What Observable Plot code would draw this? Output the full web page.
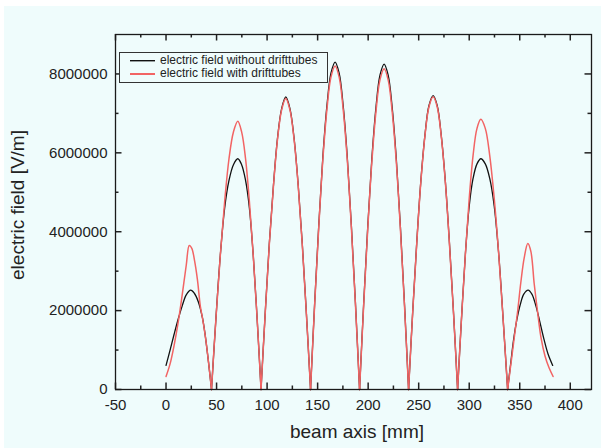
<!DOCTYPE html>
<html><head><meta charset="utf-8">
<script src="https://cdn.jsdelivr.net/npm/d3@7"></script>
<script src="https://cdn.jsdelivr.net/npm/@observablehq/plot@0.6"></script>
<style>
html,body{margin:0;padding:0;background:#fff;}
#chart{position:absolute;left:4px;top:6px;width:597px;height:442px;background:#effcfc;}
</style></head><body><div id="chart"></div>
<script>
// electric field WITHOUT drifttubes (black)
const xBlack = [0,4,8,12,16,20,24.4,28,32,36,39,42,45,
  49.3,53.7,58,62.3,66.7,71,74.8,78.7,82.5,86.3,90.2,94,
  98.1,102.2,106.3,110.3,114.4,118.5,122.6,126.7,130.8,134.8,138.9,143,
  147,151.1,155.1,159.2,163.2,167.3,171.3,175.3,179.4,183.4,187.5,191.5,
  195.5,199.6,203.6,207.7,211.7,215.8,219.8,223.8,227.9,231.9,236,240,
  244,248.1,252.1,256.2,260.2,264.3,268.3,272.3,276.4,280.4,284.5,288.5,
  292.3,296.2,300,303.8,307.7,311.5,315.9,320.3,324.75,329.2,333.6,338,
  341,344,347,350.5,354,358.3,362,366,370,374,378,382.6];
const yBlack = [0.61e6,1.0e6,1.4e6,1.78e6,2.12e6,2.4e6,2.52e6,2.44e6,2.22e6,1.82e6,1.33e6,0.7e6,0,
  1.77e6,3.4e6,4.6e6,5.3e6,5.7e6,5.85e6,5.7e6,5.3e6,4.6e6,3.4e6,1.77e6,0,
  1.92e6,3.7e6,5.18e6,6.37e6,7.12e6,7.42e6,7.12e6,6.37e6,5.18e6,3.7e6,1.92e6,0,
  2.15e6,4.15e6,5.87e6,7.19e6,8.02e6,8.3e6,8.02e6,7.19e6,5.87e6,4.15e6,2.15e6,0,
  2.14e6,4.13e6,5.83e6,7.14e6,7.97e6,8.25e6,7.97e6,7.14e6,5.83e6,4.13e6,2.14e6,0,
  1.93e6,3.73e6,5.27e6,6.45e6,7.2e6,7.45e6,7.2e6,6.45e6,5.27e6,3.73e6,1.93e6,0,
  1.77e6,3.43e6,4.65e6,5.35e6,5.72e6,5.85e6,5.72e6,5.35e6,4.65e6,3.43e6,1.77e6,0,
  0.65e6,1.28e6,1.75e6,2.15e6,2.42e6,2.52e6,2.42e6,2.12e6,1.7e6,1.27e6,0.9e6,0.61e6];

// electric field WITH drifttubes (red)
const xRed = [0,4,8,12,16,20,23,25.5,28,31,34,36,39,42,45,
  49.3,53.7,58,62.3,66.7,71,74.8,78.7,82.5,86.3,90.2,94,
  98.1,102.2,106.3,110.3,114.4,118.5,122.6,126.7,130.8,134.8,138.9,143,
  147,151.1,155.1,159.2,163.2,167.3,171.3,175.3,179.4,183.4,187.5,191.5,
  195.5,199.6,203.6,207.7,211.7,215.8,219.8,223.8,227.9,231.9,236,240,
  244,248.1,252.1,256.2,260.2,264.3,268.3,272.3,276.4,280.4,284.5,288.5,
  292.3,296.2,300,303.8,307.7,311.5,315.9,320.3,324.75,329.2,333.6,338,
  341.5,345,348,351,354.5,358,361,364.3,367.5,371,375,379,383];
const yRed = [0.33e6,0.65e6,1.12e6,1.7e6,2.4e6,3.15e6,3.65e6,3.58e6,3.3e6,2.8e6,2.1e6,1.82e6,1.33e6,0.7e6,0,
  1.77e6,3.4e6,4.76e6,5.85e6,6.53e6,6.8e6,6.53e6,5.85e6,4.76e6,3.4e6,1.77e6,0,
  1.91e6,3.68e6,5.16e6,6.34e6,7.09e6,7.38e6,7.09e6,6.34e6,5.16e6,3.68e6,1.91e6,0,
  2.12e6,4.1e6,5.8e6,7.1e6,7.92e6,8.2e6,7.92e6,7.1e6,5.8e6,4.1e6,2.12e6,0,
  2.1e6,4.07e6,5.75e6,7.04e6,7.85e6,8.13e6,7.85e6,7.04e6,5.75e6,4.07e6,2.1e6,0,
  1.92e6,3.71e6,5.25e6,6.43e6,7.17e6,7.42e6,7.17e6,6.43e6,5.25e6,3.71e6,1.92e6,0,
  1.77e6,3.43e6,4.84e6,5.93e6,6.62e6,6.85e6,6.62e6,5.93e6,4.84e6,3.43e6,1.77e6,0,
  0.7e6,1.4e6,2.0e6,2.7e6,3.35e6,3.7e6,3.5e6,2.68e6,2.0e6,1.32e6,0.85e6,0.55e6,0.33e6];

const seriesNames = ["electric field without drifttubes", "electric field with drifttubes"];
const seriesColors = ["#111111", "#f26464"];
const xDomain = [-50, 421];
const yDomain = [0, 9000000];
const xMajor = [-50,0,50,100,150,200,250,300,350,400];
const xMinor = [-25,25,75,125,175,225,275,325,375];
const yMajor = [0,2000000,4000000,6000000,8000000];
const yMinor = [1000000,3000000,5000000,7000000];
const xTitle = "beam axis [mm]";
const yTitle = "electric field [V/m]";

// split each series into cells at its zeros (zero point shared by both cells)
function toCells(xs, ys) {
  const out = []; let seg = 0;
  xs.forEach((x, i) => {
    out.push({x, y: ys[i], seg});
    if (ys[i] === 0 && i > 0 && i < xs.length - 1) { seg++; out.push({x, y: ys[i], seg}); }
  });
  return out;
}
const black = toCells(xBlack, yBlack);
const red = toCells(xRed, yRed);

const W = 597, H = 442, mL = 111, mR = 10, mT = 28, mB = 59;
const iw = W - mL - mR, ih = H - mT - mB;
// tick lengths in pixels converted to data units
const ux = (xDomain[1] - xDomain[0]) / iw, uy = (yDomain[1] - yDomain[0]) / ih;
const majLen = 6.5, minLen = 3.5;
const tk = {stroke: "#222", strokeWidth: 1.5};

const plot = Plot.plot({
  width: W, height: H,
  marginLeft: mL, marginRight: mR, marginTop: mT, marginBottom: mB,
  style: {background: "#effcfc", fontFamily: "'Liberation Sans', Arial, sans-serif", fontSize: "15px", color: "#222"},
  x: {domain: xDomain},
  y: {domain: yDomain},
  marks: [
    Plot.line(black, {x: "x", y: "y", z: "seg", curve: "catmull-rom", stroke: seriesColors[0], strokeWidth: 1.3}),
    Plot.line(red, {x: "x", y: "y", z: "seg", curve: "catmull-rom", stroke: seriesColors[1], strokeWidth: 1.5}),
    // inward ticks on all four sides
    Plot.ruleX(xMajor, {x: d => d, y1: yDomain[0], y2: yDomain[0] + majLen * uy, ...tk}),
    Plot.ruleX(xMinor, {x: d => d, y1: yDomain[0], y2: yDomain[0] + minLen * uy, ...tk}),
    Plot.ruleX(xMajor, {x: d => d, y1: yDomain[1], y2: yDomain[1] - majLen * uy, ...tk}),
    Plot.ruleX(xMinor, {x: d => d, y1: yDomain[1], y2: yDomain[1] - minLen * uy, ...tk}),
    Plot.ruleY(yMajor, {y: d => d, x1: xDomain[0], x2: xDomain[0] + majLen * ux, ...tk}),
    Plot.ruleY(yMinor, {y: d => d, x1: xDomain[0], x2: xDomain[0] + minLen * ux, ...tk}),
    Plot.ruleY(yMajor, {y: d => d, x1: xDomain[1], x2: xDomain[1] - majLen * ux, ...tk}),
    Plot.ruleY(yMinor, {y: d => d, x1: xDomain[1], x2: xDomain[1] - minLen * ux, ...tk}),
    Plot.frame({stroke: "#1a1a1a", strokeWidth: 1.3}),
    // tick labels
    Plot.axisX({anchor: "bottom", ticks: xMajor, tickSize: 0, tickPadding: 10, tickFormat: d => String(d), label: null}),
    Plot.axisY({anchor: "left", ticks: yMajor, tickSize: 0, tickPadding: 8, tickFormat: d => String(d), label: null})
  ]
});
document.getElementById("chart").appendChild(plot);

const svg = d3.select(plot);
// axis titles
svg.append("text").attr("x", mL + iw/2 + 4).attr("y", 427)
  .attr("text-anchor", "middle").attr("dominant-baseline", "middle")
  .attr("font-size", 19).attr("fill", "#222").text(xTitle);
svg.append("text").attr("transform", "translate(14.5,199) rotate(-90)")
  .attr("text-anchor", "middle").attr("dominant-baseline", "middle")
  .attr("font-size", 19).attr("fill", "#222").text(yTitle);

// legend
const lg = svg.append("g").attr("font-size", 12);
lg.append("rect").attr("x", 115.5).attr("y", 46.5).attr("width", 208).attr("height", 30)
  .attr("fill", "#effcfc").attr("stroke", "#333").attr("stroke-width", 1);
seriesNames.forEach((name, i) => {
  const cy = 54.7 + i * 13.3;
  lg.append("line").attr("x1", 126).attr("x2", 151).attr("y1", cy).attr("y2", cy)
    .attr("stroke", seriesColors[i]).attr("stroke-width", i ? 2 : 1.4);
  lg.append("text").attr("x", 156).attr("y", cy).attr("text-anchor", "start")
    .attr("dominant-baseline", "middle").attr("fill", "#222").text(name);
});
</script></body></html>
